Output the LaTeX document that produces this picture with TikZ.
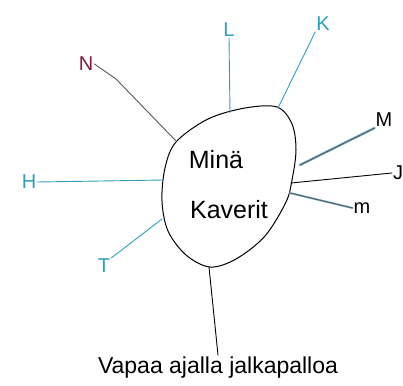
\documentclass[tikz,border=0pt]{standalone}
\usepackage{fontspec}
\setmainfont{Liberation Sans}
\usetikzlibrary{arrows.meta, positioning}
\definecolor{inkteal}{RGB}{45,160,185}
\definecolor{inkred}{RGB}{130,25,55}
\definecolor{inkgrey}{RGB}{100,85,85}

\begin{document}
\begin{tikzpicture}[x=1pt, y=-1pt, line cap=round, line join=round,
    lbl/.style={inner sep=1pt, font=\fontsize{20}{24}\selectfont},
    spoke/.style={line width=0.9pt}]
  \useasboundingbox (0,0) rectangle (403,385);
  % Center blob
  \draw[line width=1pt] plot[smooth cycle, tension=0.55] coordinates {
    (176,142) (208,119) (245,108) (277,107) (292,124) (296,150) (292,180)
    (286,202) (265,236) (236,259) (210,267) (186,255) (168,231) (162,201)
    (165,168)};
  \node[font=\fontsize{25}{30}\selectfont] (mina) at (216,160) {Minä};
  \node[font=\fontsize{25}{30}\selectfont] (kaverit) at (229,210) {Kaverit};
  % Points on the blob
  \coordinate (bN) at (176,141);
  \coordinate (bL) at (230,113);
  \coordinate (bK) at (278,108);
  \coordinate (bM) at (300,165);
  \coordinate (bJ) at (291,183);
  \coordinate (bm) at (290,193);
  \coordinate (bH) at (164,180);
  \coordinate (bT) at (162,219);
  \coordinate (bV) at (209,267);
  % Labels
  \node[lbl, text=inkred] (N) at (86,64) {N};
  \node[lbl, text=inkteal] (L) at (229,30) {L};
  \node[lbl, text=inkteal] (K) at (323,24) {K};
  \node[lbl] (M) at (384,120) {M};
  \node[lbl] (J) at (398,173) {J};
  \node[lbl] (m) at (362,208) {m};
  \node[lbl, text=inkteal] (H) at (29,182) {H};
  \node[lbl, text=inkteal] (T) at (104,266) {T};
  \node[font=\fontsize{23}{27}\selectfont, inner sep=2pt] (vapaa) at (218,368) {Vapaa ajalla jalkapalloa};
  % Spokes
  \coordinate (kN) at (116,79);
  \draw[spoke, inkgrey] (bN) -- (kN) -- (N.east);
  \draw[spoke, inkteal] (bL) -- (L.south);
  \draw[spoke, inkteal] (bK) -- (K.south west);
  \draw[line width=2.5pt, inkteal!70] (bM) -- (M.south west);
  \draw[spoke, inkgrey] (bM) -- (M.south west);
  \draw[spoke] (bJ) -- (J.west);
  \draw[line width=2pt, inkteal!70] (bm) -- (m.west);
  \draw[spoke, inkgrey] (bm) -- (m.west);
  \draw[spoke, inkteal] (bH) -- (H.east);
  \draw[spoke, inkteal] (bT) -- (T.north east);
  \draw[spoke] (bV) -- (vapaa.north);
\end{tikzpicture}
\end{document}
